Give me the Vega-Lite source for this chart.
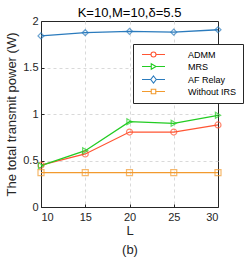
{
  "$schema": "https://vega.github.io/schema/vega-lite/v6.json",
  "autosize": "none",
  "padding": {"left": 41, "top": 21, "right": 31, "bottom": 61},
  "width": 177,
  "height": 186,
  "background": "white",
  "config": {
    "font": "Liberation Sans",
    "view": {"stroke": "#262626", "strokeWidth": 1},
    "axis": {
      "labelFont": "Liberation Sans",
      "titleFont": "Liberation Sans",
      "labelFontSize": 11,
      "titleFontSize": 13,
      "labelColor": "#262626",
      "titleColor": "#262626",
      "titleFontWeight": "normal",
      "domainColor": "#262626",
      "tickColor": "#262626",
      "gridColor": "#d9d9d9",
      "gridDash": [3, 3],
      "gridOpacity": {"condition": {"test": "datum.value == 30 || datum.value == 2", "value": 0}, "value": 1}
    }
  },
  "title": {
    "text": "K=10,M=10,δ=5.5",
    "fontSize": 13,
    "fontWeight": "normal",
    "font": "Liberation Sans",
    "color": "#000000",
    "baseline": "alphabetic",
    "offset": 0,
    "dy": 15
  },
  "data": {
    "values": [
      {"L": 10, "series": "ADMM", "power": 0.45},
      {"L": 15, "series": "ADMM", "power": 0.57},
      {"L": 20, "series": "ADMM", "power": 0.806},
      {"L": 25, "series": "ADMM", "power": 0.806},
      {"L": 30, "series": "ADMM", "power": 0.882},
      {"L": 10, "series": "MRS", "power": 0.444},
      {"L": 15, "series": "MRS", "power": 0.605},
      {"L": 20, "series": "MRS", "power": 0.917},
      {"L": 25, "series": "MRS", "power": 0.9},
      {"L": 30, "series": "MRS", "power": 0.986},
      {"L": 10, "series": "AF Relay", "power": 1.84},
      {"L": 15, "series": "AF Relay", "power": 1.874},
      {"L": 20, "series": "AF Relay", "power": 1.889},
      {"L": 25, "series": "AF Relay", "power": 1.88},
      {"L": 30, "series": "AF Relay", "power": 1.906},
      {"L": 10, "series": "Without IRS", "power": 0.37},
      {"L": 15, "series": "Without IRS", "power": 0.37},
      {"L": 20, "series": "Without IRS", "power": 0.37},
      {"L": 25, "series": "Without IRS", "power": 0.37},
      {"L": 30, "series": "Without IRS", "power": 0.37}
    ]
  },
  "encoding": {
    "x": {
      "field": "L", "type": "quantitative",
      "scale": {"domain": [10, 30], "nice": false},
      "axis": {"values": [10, 15, 20, 25, 30], "format": "~g", "title": ["L", "(b)"], "titleLineHeight": 19, "titlePadding": 2, "tickSize": -3, "labelPadding": 7}
    },
    "y": {
      "field": "power", "type": "quantitative",
      "scale": {"domain": [0, 2], "nice": false},
      "axis": {"values": [0, 0.5, 1, 1.5, 2], "format": "~g", "title": "The total transmit power (W)", "tickSize": -3, "labelPadding": 6, "titlePadding": 4}
    }
  },
  "layer": [
    {
      "mark": {"type": "line", "strokeWidth": 1.3},
      "encoding": {
        "color": {
          "field": "series", "type": "nominal",
          "scale": {"domain": ["ADMM", "MRS", "AF Relay", "Without IRS"], "range": ["#ff5533", "#22cc22", "#2b7bbd", "#f29a2e"]},
          "legend": null
        }
      }
    },
    {
      "mark": {"type": "point", "filled": false, "size": 36, "strokeWidth": 1.2},
      "encoding": {
        "color": {"field": "series", "type": "nominal", "legend": null},
        "shape": {
          "field": "series", "type": "nominal",
          "scale": {"domain": ["ADMM", "MRS", "AF Relay", "Without IRS"], "range": ["circle", "triangle-right", "diamond", "square"]},
          "legend": null
        }
      }
    },
    {
      "mark": {"type": "point", "filled": false, "size": 25, "strokeWidth": 1.2, "opacity": 0},
      "encoding": {
        "color": {
          "field": "series", "type": "nominal",
          "legend": {
            "title": null,
            "orient": "none",
            "legendX": 92,
            "legendY": 23,
            "fillColor": "white",
            "strokeColor": "#262626",
            "padding": 6,
            "rowPadding": 1,
            "labelFontSize": 9,
            "labelFont": "Liberation Sans",
            "labelColor": "#000000",
            "symbolSize": 25,
            "symbolStrokeWidth": 1.1,
            "symbolOpacity": 1,
            "symbolFillColor": "transparent",
            "symbolOffset": 10,
            "labelOffset": 30,
            "labelLimit": 100
          }
        },
        "shape": {
          "field": "series", "type": "nominal",
          "scale": {
            "domain": ["ADMM", "MRS", "AF Relay", "Without IRS"],
            "range": [
              "M-4.6,0H-1M1,0H4.6M1,0A1,1 0 1,1 -1,0A1,1 0 1,1 1,0",
              "M-4.6,0H-0.9M1,0H4.6M-0.9,-1.1L1,0L-0.9,1.1Z",
              "M-4.6,0H-1.1M1.1,0H4.6M0,-1.4L1.1,0L0,1.4L-1.1,0Z",
              "M-4.6,0H-0.9M0.9,0H4.6M-0.9,-0.9H0.9V0.9H-0.9Z"
            ]
          },
          "legend": {
            "title": null,
            "orient": "none",
            "legendX": 92,
            "legendY": 23,
            "fillColor": "white",
            "strokeColor": "#262626",
            "padding": 6,
            "rowPadding": 1,
            "labelFontSize": 9,
            "labelFont": "Liberation Sans",
            "labelColor": "#000000",
            "symbolSize": 25,
            "symbolStrokeWidth": 1.1,
            "symbolOpacity": 1,
            "symbolFillColor": "transparent",
            "symbolOffset": 10,
            "labelOffset": 30,
            "labelLimit": 100
          }
        }
      }
    }
  ],
  "resolve": {"scale": {"shape": "independent"}, "legend": {"shape": "independent", "color": "independent"}}
}
